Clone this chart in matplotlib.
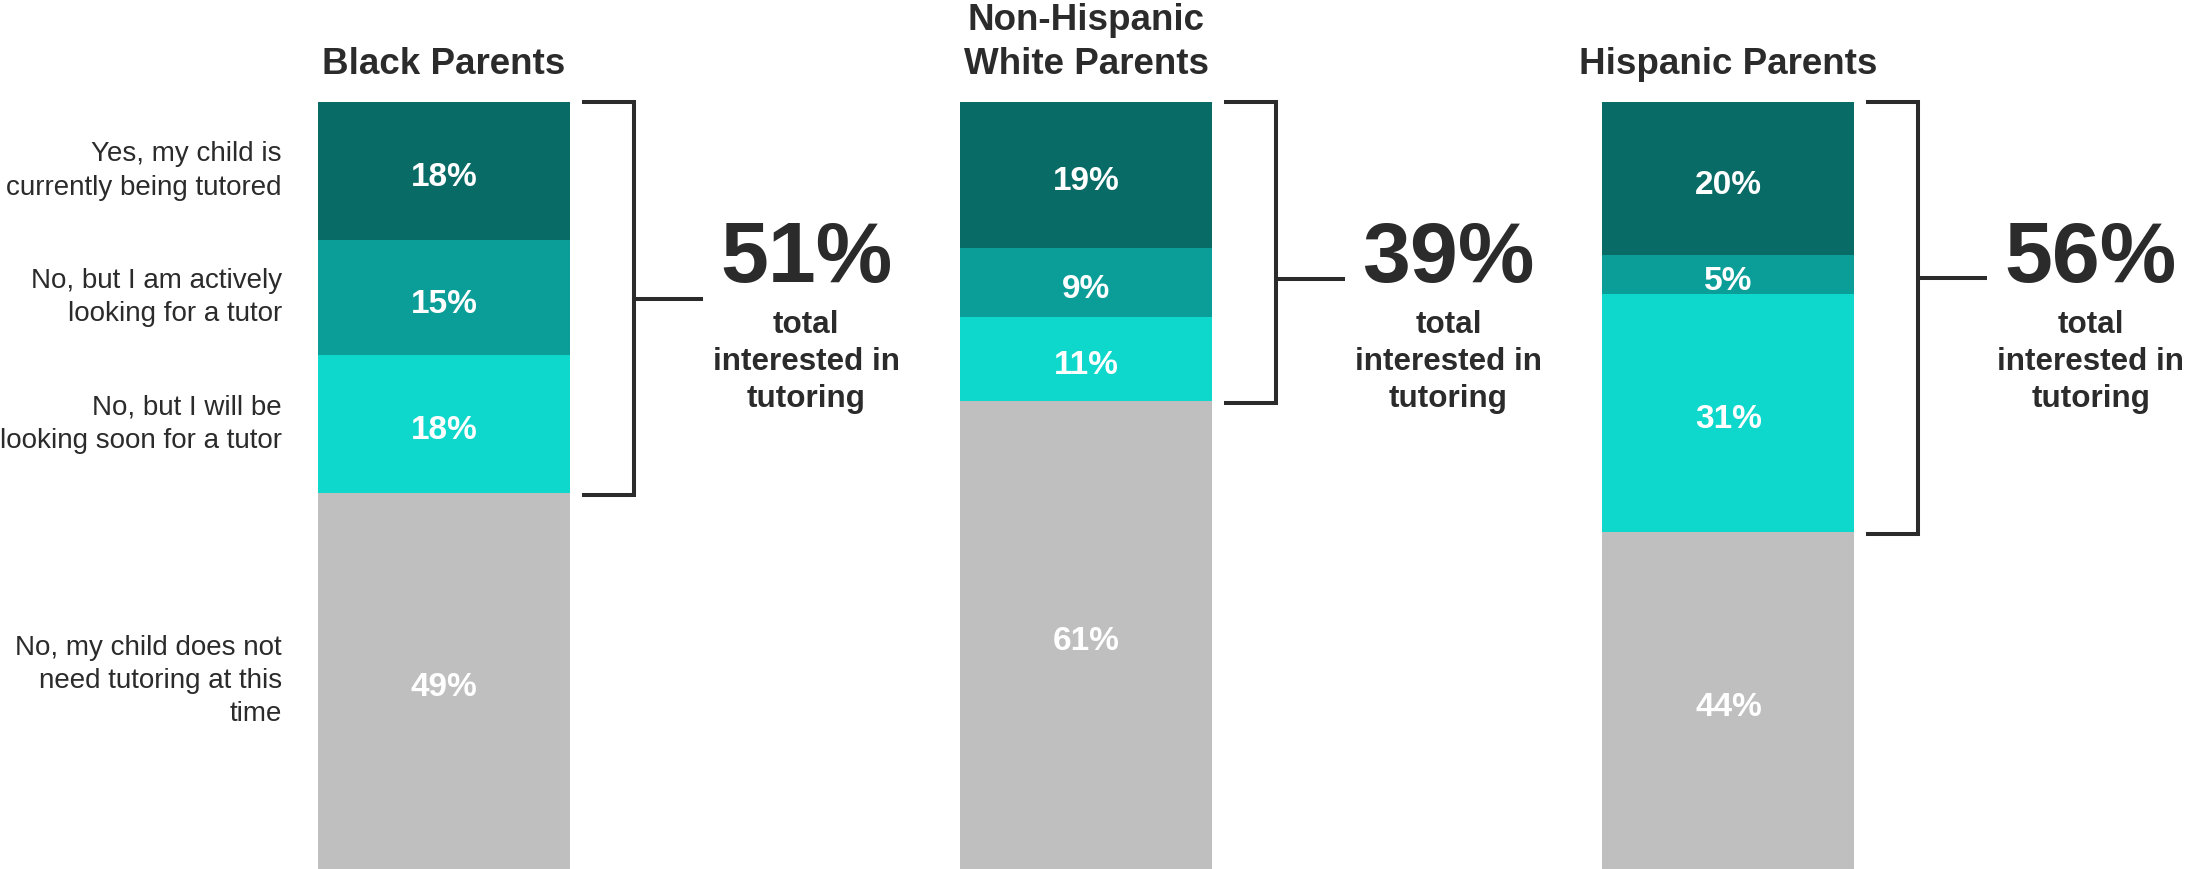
import matplotlib.pyplot as plt
import numpy as np

plt.rcParams['font.family'] = ['Liberation Sans', 'DejaVu Sans']

groups = ["Black Parents", "Non-Hispanic\nWhite Parents", "Hispanic Parents"]
answers = ["Yes, my child is\ncurrently being tutored",
           "No, but I am actively\nlooking for a tutor",
           "No, but I will be\nlooking soon for a tutor",
           "No, my child does not\nneed tutoring at this\ntime"]
currently = [18, 19, 20]
actively = [15, 9, 5]
soon = [18, 11, 31]
not_needed = [49, 61, 44]
totals = [51, 39, 56]
# where the bracket's side tick sits, in % from the top of the bar
tick_from_top = [25.7, 23.1, 22.9]

colors = ["#086b66", "#0b9e99", "#0ed7cc", "#bfbfbf"]
dark = "#2b2b2b"

fig = plt.figure(figsize=(21.86, 8.69), dpi=100)
ax = fig.add_axes([0, 0, 1, 767 / 869])
ax.set_xlim(-0.6912, 2.7125)
ax.set_ylim(0, 100)
ax.axis("off")

x = np.arange(len(groups))
w = 0.3924

# stack from the bottom up: not needed, soon, actively, currently
stack = [not_needed, soon, actively, currently]
stack_colors = colors[::-1]
bottom = np.zeros(len(groups))
for vals, c in zip(stack, stack_colors):
    vals = np.array(vals)
    ax.bar(x, vals, w, bottom=bottom, color=c, linewidth=0)
    for xi, b, v in zip(x, bottom, vals):
        ax.text(xi, b + v / 2 - 2.0, f"{v}%", ha="center", va="baseline",
                color="white", fontsize=24, fontweight="bold")
    bottom += vals

# titles
for xi, g in zip(x, groups):
    ax.text(xi, 102.6, g, ha="center", va="bottom", fontsize=26.5,
            fontweight="bold", color=dark, clip_on=False, linespacing=1.35)

# answer labels on the left of the first bar
left_x = x[0] - w / 2 - 0.056
seg_vals = [currently[0], actively[0], soon[0], not_needed[0]]
top = 100
for lab, v in zip(answers, seg_vals):
    ax.text(left_x, top - v / 2, lab, ha="right", va="center",
            fontsize=20, color=dark, linespacing=1.37)
    top -= v

# brackets and totals
for xi, tot, tk in zip(x, totals, tick_from_top):
    right = xi + w / 2
    x_start = right + 0.0187
    x_vert = right + 0.0997
    x_tick = right + 0.207
    y_top, y_bot = 100, 100 - tot - 0.3
    ax.plot([x_start, x_vert, x_vert, x_start], [y_top, y_top, y_bot, y_bot],
            color=dark, lw=2.9, solid_joinstyle="miter", solid_capstyle="butt",
            clip_on=False)
    ax.plot([x_vert, x_tick], [100 - tk, 100 - tk], color=dark, lw=2.9,
            solid_capstyle="butt")
    tx = right + 0.368
    ax.text(tx, 76.5, f"{tot}%", ha="center", va="baseline", fontsize=62,
            fontweight="bold", color=dark)
    ax.text(tx, 60.2, "total\ninterested in\ntutoring", ha="center",
            va="baseline", fontsize=22.6, fontweight="bold", color=dark,
            linespacing=1.32)

fig.savefig("out.png", dpi=100)
